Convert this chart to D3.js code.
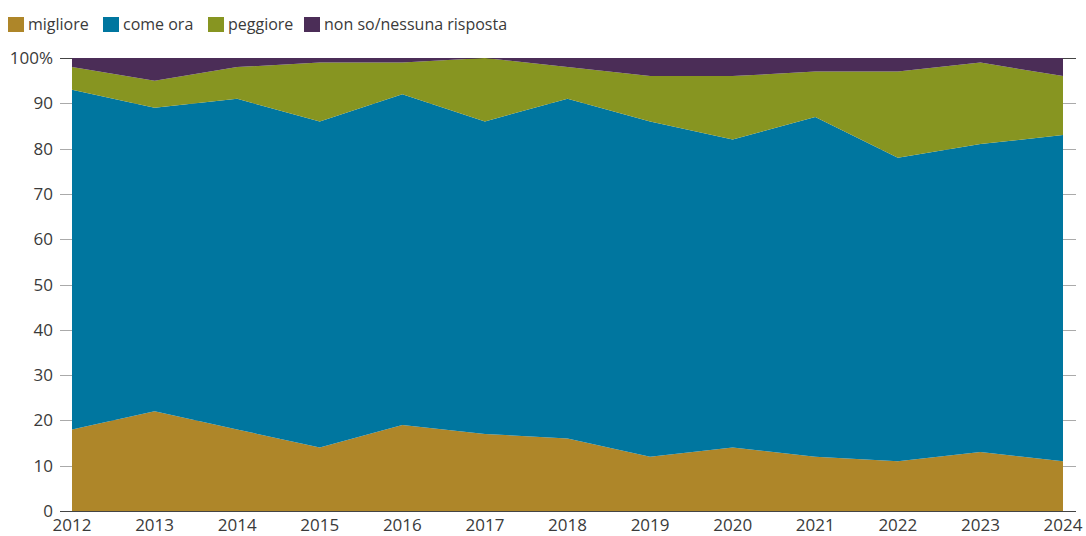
<!DOCTYPE html>
<html>
<head>
<meta charset="utf-8">
<script src="https://cdn.jsdelivr.net/npm/d3@7"></script>
<style>
  body { margin: 0; background: #fff; }
  svg { display: block; font-family: "Open Sans", sans-serif; }
</style>
</head>
<body>
<div id="chart"></div>
<script>
// data (percent)
var years = [2012, 2013, 2014, 2015, 2016, 2017, 2018, 2019, 2020, 2021, 2022, 2023, 2024];
var migliore = [18, 22, 18, 14, 19, 17, 16, 12, 14, 12, 11, 13, 11];
var comeOra  = [75, 67, 73, 72, 73, 69, 75, 74, 68, 75, 67, 68, 72];
var peggiore = [5, 6, 7, 13, 7, 14, 7, 10, 14, 10, 19, 18, 13];
var nonSo    = [2, 5, 2, 1, 1, 0, 2, 4, 4, 3, 3, 1, 4];
var seriesNames = ["migliore", "come ora", "peggiore", "non so/nessuna risposta"];
var colors = ["#ae8629", "#00769f", "#879521", "#4b2d57"];
var yTicks = [0, 10, 20, 30, 40, 50, 60, 70, 80, 90, 100];

var width = 1086, height = 536;
var margin = {top: 58, right: 23, bottom: 25, left: 72};

var svg = d3.select("#chart").append("svg")
    .attr("width", width)
    .attr("height", height);

var x = d3.scaleLinear().domain([2012, 2024]).range([margin.left, width - margin.right]);
var y = d3.scaleLinear().domain([0, 100]).range([height - margin.bottom, margin.top]);

// table for the stack
var table = years.map(function(yr, i){
    return {year: yr, s0: migliore[i], s1: comeOra[i], s2: peggiore[i], s3: nonSo[i]};
});
var stack = d3.stack().keys(["s0", "s1", "s2", "s3"]);
var layers = stack(table);

// grid lines (only the bits outside the plot stay visible)
svg.append("g")
    .selectAll("line")
    .data(yTicks)
    .enter()
    .append("line")
    .attr("x1", margin.left - 12)
    .attr("x2", width - margin.right + 13)
    .attr("y1", function(d){ return Math.round(y(d)) + 0.5; })
    .attr("y2", function(d){ return Math.round(y(d)) + 0.5; })
    .attr("stroke", function(d){ return (d == 0 || d == 100) ? "#444" : "#aaa"; })
    .attr("stroke-width", 1);

// areas
var area = d3.area()
    .x(function(d){ return x(d.data.year); })
    .y0(function(d){ return y(d[0]); })
    .y1(function(d){ return y(d[1]); });

svg.append("g")
    .selectAll("path")
    .data(layers)
    .enter()
    .append("path")
    .attr("d", area)
    .attr("fill", function(d, i){ return colors[i]; });

// bottom axis line over the area
svg.append("line")
    .attr("x1", margin.left - 12)
    .attr("x2", width - margin.right + 13)
    .attr("y1", Math.round(y(0)) + 0.5)
    .attr("y2", Math.round(y(0)) + 0.5)
    .attr("stroke", "#444");

// y labels
svg.append("g")
    .selectAll("text")
    .data(yTicks)
    .enter()
    .append("text")
    .attr("x", 53)
    .attr("y", function(d){ return y(d) + 6; })
    .attr("text-anchor", "end")
    .style("font-size", "17px")
    .attr("fill", "#3a3a3a")
    .text(function(d){ return d == 100 ? "100%" : d; });

// x labels
svg.append("g")
    .selectAll("text")
    .data(years)
    .enter()
    .append("text")
    .attr("x", function(d){ return x(d); })
    .attr("y", 531)
    .attr("text-anchor", "middle")
    .style("font-size", "17px")
    .attr("fill", "#3a3a3a")
    .text(function(d){ return d; });

// legend
var legendX = [8, 103, 208, 304];
var legend = svg.append("g");
seriesNames.forEach(function(name, i){
    legend.append("rect")
        .attr("x", legendX[i])
        .attr("y", 17)
        .attr("width", 16)
        .attr("height", 15)
        .attr("fill", colors[i]);
    legend.append("text")
        .attr("x", legendX[i] + 20)
        .attr("y", 30)
        .style("font-size", "16px")
        .attr("fill", "#3a3a3a")
        .text(name);
});
</script>
</body>
</html>
